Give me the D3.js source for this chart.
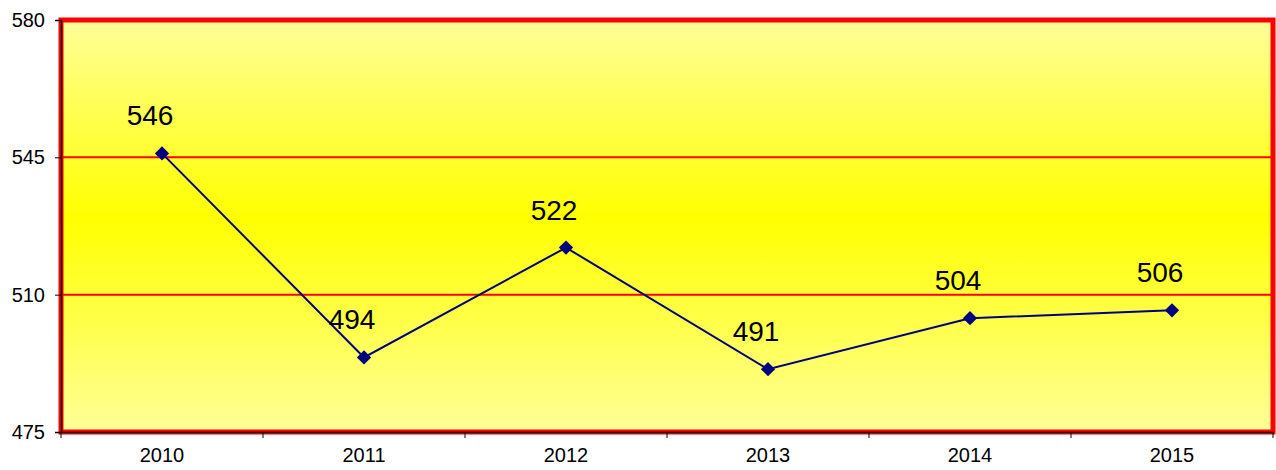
<!DOCTYPE html>
<html><head><meta charset="utf-8">
<script src="https://cdn.jsdelivr.net/npm/d3@7"></script>
<style>body{margin:0;background:#fff}svg{display:block}</style>
</head><body>
<svg id="c" width="1276" height="470"></svg>
<script>
const years = ["2010","2011","2012","2013","2014","2015"];
const values = [546, 494, 522, 491, 504, 506];
const yTicks = [475, 510, 545, 580];
const gridValues = [510, 545];

const svg = d3.select("#c");
const L = 61, R = 1273, T = 20, B = 432;
const FONT = "Arial, 'Liberation Sans', sans-serif";
const x = d3.scaleBand().domain(years).range([L, R]);
const y = d3.scaleLinear().domain([475, 580]).range([B, T]);

const defs = svg.append("defs");
const g = defs.append("linearGradient").attr("id","bg").attr("x1",0).attr("y1",0).attr("x2",0).attr("y2",1);
g.append("stop").attr("offset","0%").attr("stop-color","#FFFF99");
g.append("stop").attr("offset","48%").attr("stop-color","#FFFF00");
g.append("stop").attr("offset","100%").attr("stop-color","#FFFF99");

svg.append("rect").attr("x",L).attr("y",T).attr("width",R-L).attr("height",B-T).attr("fill","url(#bg)");

svg.append("g").selectAll("line").data(gridValues).join("line")
  .attr("x1",L).attr("x2",R).attr("y1",d=>y(d)).attr("y2",d=>y(d))
  .attr("stroke","#FF0000").attr("stroke-width",2);

svg.append("rect").attr("x",L).attr("y",T).attr("width",R-L).attr("height",B-T)
  .attr("fill","none").attr("stroke","#FF0000").attr("stroke-width",5);

const ya = svg.append("g").attr("transform",`translate(${L},0)`)
  .call(d3.axisLeft(y).tickValues(yTicks).tickSize(6).tickPadding(10));
ya.attr("font-size",null).attr("font-family",null);
ya.select(".domain").attr("stroke","#000").attr("stroke-width",1.5);
ya.selectAll(".tick line").attr("stroke","#000");
ya.selectAll("text").style("font-family",FONT).style("font-size","20px").attr("fill","#000");

const xa = svg.append("g").attr("transform",`translate(0,${B})`)
  .call(d3.axisBottom(x).tickSize(0).tickPadding(16));
xa.attr("font-size",null).attr("font-family",null);
xa.select(".domain").attr("stroke","#000").attr("stroke-width",1.5);
xa.selectAll("text").style("font-family",FONT).style("font-size","20px").attr("fill","#000");
const bounds = years.map(d=>x(d)).concat([R]);
svg.append("g").selectAll("line").data(bounds).join("line")
  .attr("x1",d=>d).attr("x2",d=>d).attr("y1",B).attr("y2",B+6)
  .attr("stroke","#000").attr("stroke-width",1);

const cx = (d,i)=>x(years[i])+x.bandwidth()/2;
const line = d3.line().x((d,i)=>cx(d,i)).y(d=>y(d));
svg.append("path").datum(values).attr("d",line).attr("fill","none").attr("stroke","#000080").attr("stroke-width",2);

svg.append("g").selectAll("path").data(values).join("path")
  .attr("d", d3.symbol().type(d3.symbolDiamond2).size(130))
  .attr("transform",(d,i)=>`translate(${cx(d,i)},${y(d)})`)
  .attr("fill","#000080");

svg.append("g").selectAll("text").data(values).join("text")
  .attr("x",(d,i)=>cx(d,i)-12).attr("y",d=>y(d)-28)
  .attr("text-anchor","middle")
  .style("font-family",FONT).style("font-size","28px").attr("fill","#000")
  .text(d=>d);
</script>
</body></html>
